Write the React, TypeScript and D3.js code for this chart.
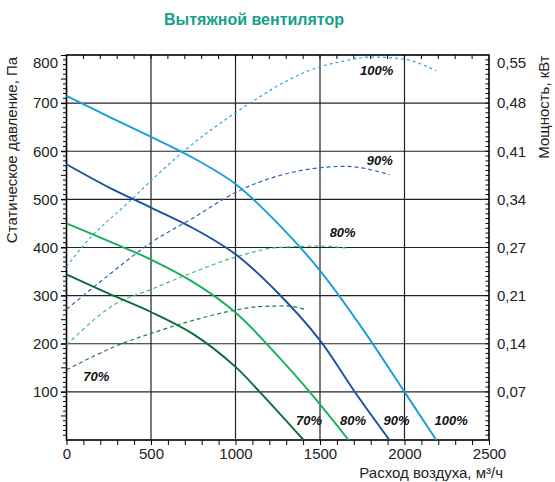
import React, { useEffect, useRef } from "react";
import * as d3 from "d3";

const title = "Вытяжной вентилятор";
const yLabel = "Статическое давление, Па";
const y2Label = "Мощность, кВт";
const xLabel = "Расход воздуха, м³/ч";

const flowTicks = [0, 500, 1000, 1500, 2000, 2500];
const pressureTicks = [100, 200, 300, 400, 500, 600, 700, 800];
const powerTicks = [0.07, 0.14, 0.21, 0.28, 0.35, 0.42, 0.49, 0.56];
const powerTickLabels = ["0,07", "0,14", "0,21", "0,27", "0,34", "0,41", "0,48", "0,55"];

const speeds = ["100%", "90%", "80%", "70%"];

// static pressure, Pa  [flow m3/h, Pa]
const pressure100 = [[0, 715], [250, 672], [500, 630], [750, 586], [1000, 532], [1250, 450], [1500, 352], [1750, 232], [2000, 100], [2188, 0]];
const pressure90 = [[0, 573], [250, 525], [500, 483], [750, 440], [1000, 386], [1250, 306], [1500, 207], [1700, 103], [1911, 0]];
const pressure80 = [[0, 450], [250, 413], [500, 375], [750, 328], [1000, 265], [1250, 175], [1439, 100], [1669, 0]];
const pressure70 = [[0, 344], [250, 304], [500, 266], [750, 220], [1000, 152], [1143, 100], [1403, 0]];

// power, kW  [flow m3/h, kW]
const power100 = [[0, 0.252], [90, 0.28], [385, 0.35], [552, 0.389], [694, 0.42], [1000, 0.476], [1500, 0.543], [1616, 0.55], [1813, 0.557], [1996, 0.554], [2187, 0.537]];
const power90 = [[0, 0.19], [250, 0.24], [500, 0.287], [750, 0.323], [1000, 0.36], [1250, 0.384], [1500, 0.396], [1650, 0.398], [1911, 0.386]];
const power80 = [[0, 0.138], [290, 0.198], [500, 0.219], [750, 0.244], [1000, 0.266], [1250, 0.28], [1500, 0.282], [1665, 0.279]];
const power70 = [[0, 0.102], [336, 0.141], [500, 0.155], [749, 0.174], [1000, 0.189], [1143, 0.194], [1300, 0.195], [1410, 0.19]];

const pressureSeries = [pressure100, pressure90, pressure80, pressure70];
const powerSeries = [power100, power90, power80, power70];

// where the speed labels sit, in chart units [flow, Pa]
const powerLabelAt = [[1835, 766], [1854, 578], [1634, 430], [176, 129]];
const pressureLabelAt = [[2276, 38], [1953, 38], [1695, 38], [1435, 38]];

const solidColors = ["#1a9bdc", "#1b4f9f", "#16b05a", "#0f6a38"];
const dashColors = ["#2aa5e0", "#2c62b4", "#3cc07a", "#1f7a46"];
const dashStyles = ["3,3", "4,3", "4,3", "4,3"];

export default function App() {
  const ref = useRef<SVGSVGElement>(null);

  useEffect(() => {
    const svg = d3.select(ref.current);
    svg.selectAll("*").remove();
    const font = "'Liberation Sans', Arial, sans-serif";

    const x = d3.scaleLinear().domain([0, 2500]).range([66.5, 489]);
    const y = d3.scaleLinear().domain([0, 800]).range([440, 55]);
    const yPow = d3.scaleLinear().domain([0, 0.56]).range([440, 55]);

    svg
      .append("text")
      .attr("x", 254)
      .attr("y", 21)
      .attr("text-anchor", "middle")
      .attr("dominant-baseline", "middle")
      .style("font-family", font)
      .style("font-size", "16px")
      .style("font-weight", "bold")
      .style("fill", "#179f8b")
      .text(title);

    // grid
    const grid = svg.append("g");
    grid
      .selectAll("line.v")
      .data(flowTicks.slice(1, -1))
      .join("line")
      .attr("x1", (d) => x(d))
      .attr("x2", (d) => x(d))
      .attr("y1", y(0))
      .attr("y2", y(800))
      .attr("stroke", "#222")
      .attr("stroke-width", 1.2);
    grid
      .selectAll("line.h")
      .data(pressureTicks.slice(0, -1))
      .join("line")
      .attr("x1", x(0))
      .attr("x2", x(2500))
      .attr("y1", (d) => y(d))
      .attr("y2", (d) => y(d))
      .attr("stroke", "#222")
      .attr("stroke-width", 1.2);

    // minor ticks
    const ticks = svg.append("g").attr("stroke", "#000").attr("stroke-width", 1);
    const every10 = d3.range(10, 800, 10);
    ticks
      .selectAll("line.l")
      .data(every10)
      .join("line")
      .attr("x1", (d) => x(0) - (d % 50 === 0 ? 5.5 : 3.5))
      .attr("x2", x(0))
      .attr("y1", (d) => y(d))
      .attr("y2", (d) => y(d));
    ticks
      .selectAll("line.r")
      .data(every10)
      .join("line")
      .attr("x1", x(2500) - 3.5)
      .attr("x2", x(2500))
      .attr("y1", (d) => y(d))
      .attr("y2", (d) => y(d));
    const every100 = d3.range(100, 2500, 100);
    ticks
      .selectAll("line.t")
      .data(every100)
      .join("line")
      .attr("x1", (d) => x(d))
      .attr("x2", (d) => x(d))
      .attr("y1", y(800))
      .attr("y2", y(800) + 4);

    // axes
    const xAxis = d3
      .axisBottom(x)
      .tickValues(d3.range(0, 2501, 100))
      .tickSize(5)
      .tickPadding(3)
      .tickFormat((d) => (flowTicks.includes(+d) ? String(d) : ""));
    const gx = svg.append("g").attr("transform", `translate(0,${y(0)})`).call(xAxis);

    const yAxis = d3.axisLeft(y).tickValues(pressureTicks).tickSize(5.5).tickPadding(3);
    const gy = svg.append("g").attr("transform", `translate(${x(0)},0)`).call(yAxis);

    const y2Axis = d3
      .axisRight(yPow)
      .tickValues(powerTicks)
      .tickSize(0)
      .tickPadding(8)
      .tickFormat((d, i) => powerTickLabels[i]);
    const gy2 = svg.append("g").attr("transform", `translate(${x(2500)},0)`).call(y2Axis);

    [gx, gy, gy2].forEach((g) => {
      g.select(".domain").remove();
      g.selectAll("line").attr("stroke", "#000");
      g.selectAll("text").style("font-family", font).style("font-size", "15px").attr("fill", "#222");
    });
    gy.selectAll("text").filter((d) => d === 800).attr("transform", "translate(0,8)");
    gy2.selectAll("text").filter((d) => d === 0.56).attr("transform", "translate(0,8)");

    // frame
    svg
      .append("rect")
      .attr("x", x(0))
      .attr("y", y(800))
      .attr("width", x(2500) - x(0))
      .attr("height", y(0) - y(800))
      .attr("fill", "none")
      .attr("stroke", "#000")
      .attr("stroke-width", 1.6);

    // curves
    const pLine = d3
      .line<number[]>()
      .x((d) => x(d[0]))
      .y((d) => y(d[1]))
      .curve(d3.curveCatmullRom.alpha(0.5));
    const wLine = d3
      .line<number[]>()
      .x((d) => x(d[0]))
      .y((d) => yPow(d[1]))
      .curve(d3.curveMonotoneX);

    powerSeries.forEach((s, i) => {
      svg
        .append("path")
        .datum(s)
        .attr("d", wLine)
        .attr("fill", "none")
        .attr("stroke", dashColors[i])
        .attr("stroke-width", 1.2)
        .attr("stroke-dasharray", dashStyles[i]);
    });
    pressureSeries.forEach((s, i) => {
      svg
        .append("path")
        .datum(s)
        .attr("d", pLine)
        .attr("fill", "none")
        .attr("stroke", solidColors[i])
        .attr("stroke-width", 1.9);
    });

    // speed labels
    const labels = svg
      .append("g")
      .style("font-family", font)
      .style("font-size", "13px")
      .style("font-weight", "bold")
      .style("font-style", "italic")
      .attr("fill", "#111")
      .attr("text-anchor", "middle")
      .attr("dominant-baseline", "middle");
    speeds.forEach((s, i) => {
      labels.append("text").attr("x", x(powerLabelAt[i][0])).attr("y", y(powerLabelAt[i][1])).text(s);
      labels.append("text").attr("x", x(pressureLabelAt[i][0])).attr("y", y(pressureLabelAt[i][1])).text(s);
    });

    // axis titles
    svg
      .append("text")
      .attr("transform", "translate(13,150) rotate(-90)")
      .attr("text-anchor", "middle")
      .attr("dominant-baseline", "middle")
      .style("font-family", font)
      .style("font-size", "15px")
      .attr("fill", "#222")
      .text(yLabel);
    svg
      .append("text")
      .attr("transform", "translate(545,107) rotate(-90)")
      .attr("text-anchor", "middle")
      .attr("dominant-baseline", "middle")
      .style("font-family", font)
      .style("font-size", "15px")
      .attr("fill", "#222")
      .text(y2Label);
    svg
      .append("text")
      .attr("x", 503)
      .attr("y", 478)
      .attr("text-anchor", "end")
      .style("font-family", font)
      .style("font-size", "15px")
      .attr("fill", "#222")
      .text(xLabel);
  }, []);

  return (
    <svg
      ref={ref}
      width={555}
      height={482}
      style={{ position: "absolute", left: 0, top: 0, background: "#fff" }}
    />
  );
}
